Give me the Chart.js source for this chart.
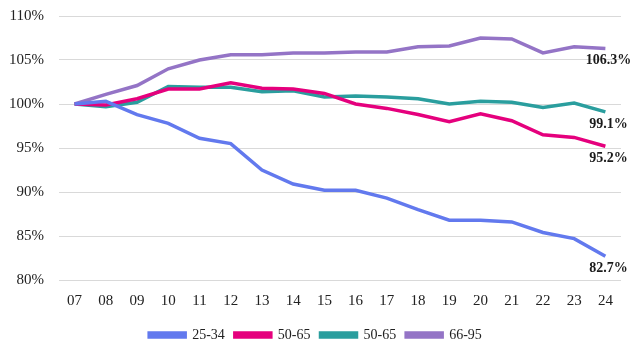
<!DOCTYPE html>
<html>
<head>
<meta charset="utf-8">
<script src="https://cdn.jsdelivr.net/npm/chart.js@4/dist/chart.umd.min.js"></script>
<style>
html,body{margin:0;padding:0;background:#fff;}
#wrap{width:633px;height:347px;position:relative;}
</style>
</head>
<body>
<div id="wrap"><canvas id="c"></canvas></div>
<script>
const categories = ['07','08','09','10','11','12','13','14','15','16','17','18','19','20','21','22','23','24'];
const seriesNames = ['25-34','50-65','50-65','66-95'];
const s2534 = [100,100.3,98.8,97.8,96.1,95.5,92.5,90.9,90.2,90.2,89.3,88.0,86.8,86.8,86.6,85.4,84.7,82.7];
const s5065a = [100,99.9,100.6,101.7,101.7,102.4,101.8,101.7,101.2,100.0,99.5,98.8,98.0,98.9,98.1,96.5,96.2,95.2];
const s5065b = [100,99.7,100.2,102.0,101.9,101.9,101.4,101.5,100.8,100.9,100.8,100.6,100.0,100.3,100.2,99.6,100.1,99.1];
const s6695 = [100,101.1,102.1,104.0,105.0,105.6,105.6,105.8,105.8,105.9,105.9,106.5,106.6,107.5,107.4,105.8,106.5,106.3];
const endLabels = ['82.7%','95.2%','99.1%','106.3%'];
const colors = ['#6279EE','#E5007D','#2A9E9E','#9474C6'];

const endLabelPlugin = {
  id:'endLabels',
  afterDatasetsDraw(chart){
    const ctx = chart.ctx;
    ctx.save();
    ctx.font = 'bold 14px "Liberation Serif"';
    ctx.fillStyle = '#1a1a1a';
    ctx.textAlign = 'center';
    ctx.textBaseline = 'middle';
    chart.data.datasets.forEach((ds,i)=>{
      const meta = chart.getDatasetMeta(i);
      const last = meta.data[meta.data.length-1];
      ctx.fillText(endLabels[i], last.x + 3, last.y + 12);
    });
    ctx.restore();
  }
};

const datasets = [s2534,s5065a,s5065b,s6695].map((d,i)=>({
  label: seriesNames[i],
  data: d,
  borderColor: colors[i],
  backgroundColor: colors[i],
  borderWidth: 3.5,
  pointRadius: 0,
  tension: 0,
  fill: false
}));

new Chart(document.getElementById('c'), {
  type:'line',
  data:{labels:categories, datasets},
  plugins:[endLabelPlugin],
  options:{
    responsive:true,
    maintainAspectRatio:false,
    animation:false,
    layout:{padding:{left:10,right:12,top:16,bottom:-5}},
    plugins:{
      legend:{
        position:'bottom',
        labels:{
          boxWidth:36, boxHeight:4,
          color:'#222',
          font:{family:'"Liberation Serif"', size:14},
          padding:10
        }
      },
      tooltip:{enabled:false}
    },
    scales:{
      x:{
        offset:true,
        grid:{display:false},
        border:{display:false},
        ticks:{color:'#222', font:{family:'"Liberation Serif"', size:15}, padding:4},
        afterFit:(s)=>{ s.height = 38; s.paddingLeft = 0; s.paddingRight = 0; }
      },
      y:{
        min:80, max:110,
        border:{display:false},
        grid:{color:'#d9d9d9', lineWidth:1, drawTicks:false},
        ticks:{stepSize:5, color:'#222', font:{family:'"Liberation Serif"', size:15}, padding:15,
          callback:v=>v+'%'},
        afterFit:(s)=>{ s.width = 49; s.paddingTop = 0; s.paddingBottom = 0; }
      }
    }
  }
});
</script>
</body>
</html>
